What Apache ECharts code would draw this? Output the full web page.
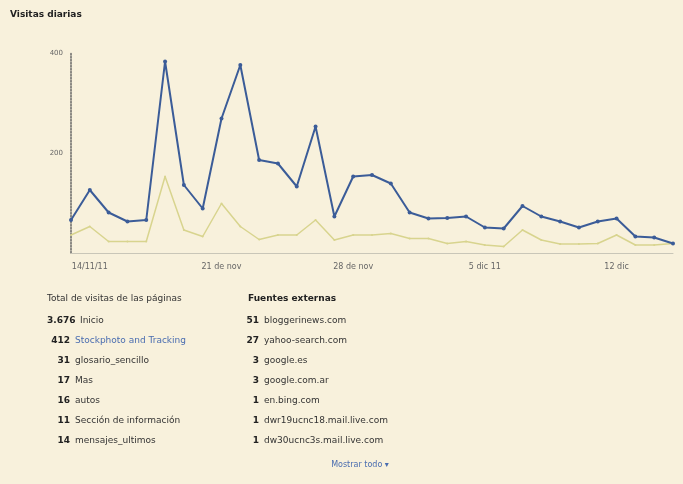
<!DOCTYPE html>
<html>
<head>
<meta charset="utf-8">
<script src="https://cdn.jsdelivr.net/npm/echarts@6/dist/echarts.min.js"></script>
<style>
html,body{margin:0;padding:0;background:#f8f1dc;}
#chart{width:683px;height:484px;}
</style>
</head>
<body>
<div id="chart"></div>
<script>
var categories = ["13/11","14/11","15/11","16/11","17/11","18/11","19/11","20/11","21/11","22/11","23/11","24/11","25/11","26/11","27/11","28/11","29/11","30/11","1/12","2/12","3/12","4/12","5/12","6/12","7/12","8/12","9/12","10/12","11/12","12/12","13/12","14/12","15/12"];
var tickLabels = {1:"14/11/11", 8:"21 de nov", 15:"28 de nov", 22:"5 dic 11", 29:"12 dic"};
var visitasTotales = [66,126,81,63,66,383,136,89,269,376,186,179,133,253,73,153,156,139,81,69,70,73,51,49,94,73,63,51,63,69,33,31,19];
var visitasUnicas  = [36,53,23,23,23,153,46,33,99,53,27,36,36,66,26,36,36,39,29,29,19,23,16,13,46,26,18,18,19,36,16,16,19];
var paginas = [["3.676","Inicio"],["412","Stockphoto and Tracking"],["31","glosario_sencillo"],["17","Mas"],["16","autos"],["11","Sección de información"],["14","mensajes_ultimos"]];
var fuentes = [["51","bloggerinews.com"],["27","yahoo-search.com"],["3","google.es"],["3","google.com.ar"],["1","en.bing.com"],["1","dwr19ucnc18.mail.live.com"],["1","dw30ucnc3s.mail.live.com"]];

var chart = echarts.init(document.getElementById('chart'));
var graphics = [];
var txt = '#333';
graphics.push({type:'text', left:10, top:10, style:{text:'Visitas diarias', font:'bold 9px "DejaVu Sans"', fill:'#222'}});
graphics.push({type:'text', left:47, top:294, style:{text:'Total de visitas de las páginas', font:'9px "DejaVu Sans"', fill:txt}});
graphics.push({type:'text', left:248, top:294, style:{text:'Fuentes externas', font:'bold 9px "DejaVu Sans"', fill:'#222'}});
paginas.forEach(function(p, i){
  var y = 316 + i*20;
  if (i === 0) {
    graphics.push({type:'text', left:47, top:y, style:{text:p[0], font:'bold 9px "DejaVu Sans"', fill:'#222'}});
    graphics.push({type:'text', left:80, top:y, style:{text:p[1], font:'9px "DejaVu Sans"', fill:txt}});
  } else {
    graphics.push({type:'text', x:70, y:y, style:{text:p[0], font:'bold 9px "DejaVu Sans"', fill:'#222', align:'right', verticalAlign:'top'}});
    graphics.push({type:'text', x:75, y:y, style:{text:p[1], font:'9px "DejaVu Sans"', fill:(i===1?'#4a6db0':txt), verticalAlign:'top'}});
  }
});
fuentes.forEach(function(p, i){
  var y = 316 + i*20;
  graphics.push({type:'text', x:259, y:y, style:{text:p[0], font:'bold 9px "DejaVu Sans"', fill:'#222', align:'right', verticalAlign:'top'}});
  graphics.push({type:'text', x:264, y:y, style:{text:p[1], font:'9px "DejaVu Sans"', fill:txt, verticalAlign:'top'}});
});
graphics.push({type:'text', x:360, y:465, style:{text:'Mostrar todo ▾', font:'8px "DejaVu Sans"', fill:'#4a6db0', align:'center', verticalAlign:'middle'}});

chart.setOption({
  backgroundColor:'#f8f1dc',
  animation:false,
  grid:{left:71, right:10, top:53, bottom:231},
  xAxis:{
    type:'category', data:categories, boundaryGap:false,
    axisLine:{lineStyle:{color:'#c9c6b8', width:1}},
    axisTick:{show:false},
    axisLabel:{
      interval:function(i){ return tickLabels[i] !== undefined; },
      formatter:function(v, i){ return tickLabels[i] || ''; },
      color:'#666', fontSize:8, fontFamily:'DejaVu Sans', margin:10
    },
    splitLine:{show:false}
  },
  yAxis:{
    type:'value', min:0, max:400, interval:200,
    axisLine:{show:true, lineStyle:{color:'#666', type:'dotted', width:1.5}},
    axisTick:{show:false},
    axisLabel:{color:'#666', fontSize:7, fontFamily:'DejaVu Sans', margin:8, formatter:function(v){return v===0?'':v;}},
    splitLine:{show:false}
  },
  series:[
    {type:'line', data:visitasUnicas, symbol:'circle', symbolSize:2, itemStyle:{color:'#d8d48e'}, lineStyle:{color:'#d8d48e', width:1.5}, z:2},
    {type:'line', data:visitasTotales, symbol:'circle', symbolSize:4, itemStyle:{color:'#3b5c98'}, lineStyle:{color:'#3b5c98', width:2}, z:3}
  ],
  graphic:graphics
});
</script>
</body>
</html>
